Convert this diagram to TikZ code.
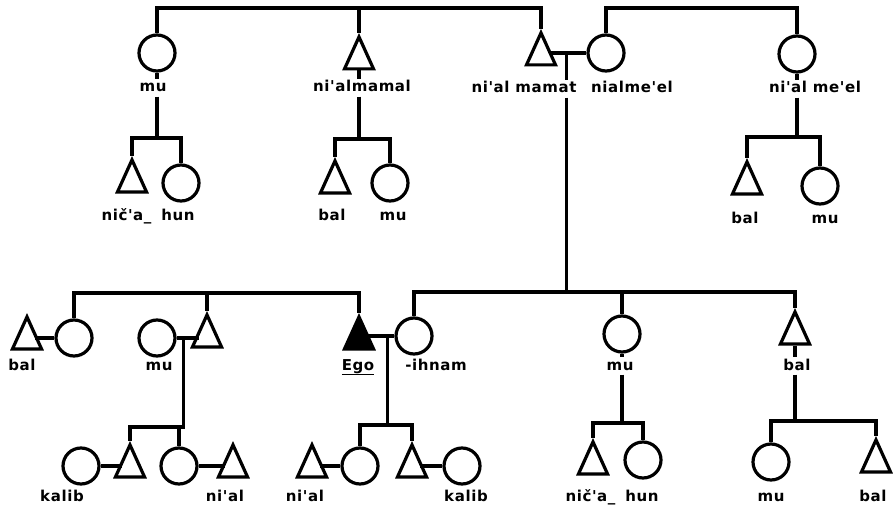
\documentclass[tikz,border=0pt]{standalone}
\usepackage{fontspec}
\setmainfont{DejaVu Sans}
\newfontfamily\lblfont[LetterSpace=4]{DejaVu Sans}
\usetikzlibrary{shapes.geometric,calc}
\tikzset{
  fem/.style={circle, draw, line width=3.2pt, minimum size=36pt, inner sep=0pt},
  mal/.style={isosceles triangle, isosceles triangle stretches, shape border rotate=90,
              draw, line width=3.2pt, minimum width=29pt, minimum height=32pt, inner sep=0pt,
              anchor=lower side},
  egomal/.style={mal, fill=black},
  lbl/.style={font=\lblfont\bfseries\fontsize{15}{17}\selectfont, inner sep=2pt,
              text height=10.5pt, text depth=2.5pt},
  ln/.style={line width=3.1pt},
}
\begin{document}
\begin{tikzpicture}[x=1pt,y=-1pt]
\useasboundingbox (0,0) rectangle (893,513);
% bar levels
\coordinate (yA) at (0,8);
\coordinate (yC) at (0,138);
\coordinate (yD) at (0,139);
\coordinate (yE) at (0,137);
\coordinate (yL) at (0,293);
\coordinate (yR) at (0,292);
\coordinate (yF) at (0,427);
\coordinate (yG) at (0,425);
\coordinate (yH) at (0,423);
\coordinate (yI) at (0,421);

% ---- top generation
\node[fem] (c_mu1) at (157,53) {};
\node[mal] (t_nm) at (359,70.5) {};
\node[mal] (t_nmat) at (541,66.5) {};
\node[fem] (c_nme) at (606,53) {};
\node[fem] (c_nme2) at (797,54) {};
\node[lbl] (l_mu1) at (153,88) {mu};
\node[lbl] (l_nm) at (362,88) {ni'almamal};
\node[lbl] (l_nmat) at (524,89) {ni'al mamat};
\node[lbl] (l_nme) at (632,89) {nialme'el};
\node[lbl] (l_nme2) at (815,89) {ni'al me'el};

% ---- second generation (top)
\node[mal] (t_a1) at (132,193.5) {};
\node[fem] (c_a1) at (181,183) {};
\node[lbl] (l_a) at (148,216) {nič'a\_\hspace{4pt} hun};
\node[mal] (t_b1) at (335,194.5) {};
\node[fem] (c_b1) at (390,183) {};
\node[lbl] (l_b1) at (332,216) {bal};
\node[lbl] (l_b2) at (393,216) {mu};
\node[mal] (t_e1) at (747,195.5) {};
\node[fem] (c_e1) at (820,186) {};
\node[lbl] (l_e1) at (745,219) {bal};
\node[lbl] (l_e2) at (825,219) {mu};

% ---- Ego's generation
\node[mal] (t_bal) at (27,350.5) {};
\node[fem] (c_s1) at (74,338) {};
\node[lbl] (l_bal) at (22,366) {bal};
\node[fem] (c_mu2) at (157,338) {};
\node[mal] (t_br) at (207,348.5) {};
\node[lbl] (l_mu2) at (159,366) {mu};
\node[egomal] (t_ego) at (359,350.5) {};
\node[lbl] (l_ego) at (358,366) {\underline{Ego}};
\node[fem] (c_ih) at (414,336) {};
\node[lbl] (l_ih) at (436,366) {-ihnam};
\node[fem] (c_mu3) at (622,334) {};
\node[lbl] (l_mu3) at (620,366) {mu};
\node[mal] (t_bal3) at (795,345.5) {};
\node[lbl] (l_bal3) at (797,366) {bal};

% ---- children generation
\node[fem] (c_f1) at (81,466) {};
\node[mal] (t_f1) at (130,478.5) {};
\node[fem] (c_f2) at (179,466) {};
\node[mal] (t_f2) at (233,478.5) {};
\node[lbl] (l_f1) at (62,497) {kalib};
\node[lbl] (l_f2) at (225,497) {ni'al};
\node[mal] (t_g1) at (312,478.5) {};
\node[fem] (c_g1) at (360,466) {};
\node[mal] (t_g2) at (412,478.5) {};
\node[fem] (c_g2) at (462,466) {};
\node[lbl] (l_g1) at (305,497) {ni'al};
\node[lbl] (l_g2) at (466,497) {kalib};
\node[mal] (t_h1) at (593,475.5) {};
\node[fem] (c_h2) at (643,460) {};
\node[lbl] (l_h) at (612,497) {nič'a\_\hspace{4pt} hun};
\node[fem] (c_i1) at (771,462) {};
\node[mal] (t_i2) at (876,473.5) {};
\node[lbl] (l_i1) at (771,497) {mu};
\node[lbl] (l_i2) at (873,497) {bal};

% ---- connectors: top
\draw[ln] (c_mu1.north) -- (c_mu1.north |- yA) -- (t_nmat.apex |- yA) -- (t_nmat.apex);
\draw[ln] (t_nm.apex) -- (t_nm.apex |- yA);
\draw[ln] (c_nme.north) -- (c_nme.north |- yA) -- (c_nme2.north |- yA) -- (c_nme2.north);
\draw[ln] (c_mu1.south) -- (c_mu1.south |- l_mu1.north);
\draw[ln] (c_mu1.south |- l_mu1.south) -- (c_mu1.south |- yC);
\draw[ln] (t_a1.apex) -- (t_a1.apex |- yC) -- (c_a1.north |- yC) -- (c_a1.north);
\draw[ln] (t_nm.lower side) -- (t_nm.lower side |- l_nm.north);
\draw[ln] (t_nm.lower side |- l_nm.south) -- (t_nm.lower side |- yD);
\draw[ln] (t_b1.apex) -- (t_b1.apex |- yD) -- (c_b1.north |- yD) -- (c_b1.north);
\draw[ln] (c_nme.west) -- (c_nme.west -| t_nmat.right side);
\coordinate (m1) at ($(c_nme.west -| t_nmat.right side)!0.45!(c_nme.west)$);
\draw[ln] (m1) -- (m1 |- l_nmat.north);
\draw[ln] (m1 |- l_nmat.south) -- (m1 |- yR);
\draw[ln] (c_nme2.south) -- (c_nme2.south |- l_nme2.north);
\draw[ln] (c_nme2.south |- l_nme2.south) -- (c_nme2.south |- yE);
\draw[ln] (t_e1.apex) -- (t_e1.apex |- yE) -- (c_e1.north |- yE) -- (c_e1.north);

% ---- connectors: Ego's generation
\draw[ln] (c_s1.north) -- (c_s1.north |- yL) -- (t_ego.apex |- yL) -- (t_ego.apex);
\draw[ln] (t_br.apex) -- (t_br.apex |- yL);
\draw[ln] (c_s1.west) -- (c_s1.west -| t_bal.right side);
\draw[ln] (c_mu2.east) -- (c_mu2.east -| t_br.left side);
\coordinate (m2) at ($(c_mu2.east)!0.3!(c_mu2.east -| t_br.left side)$);
\draw[ln] (m2) -- (m2 |- yF) -- (t_f1.apex |- yF) -- (t_f1.apex);
\draw[ln] (c_f2.north) -- (c_f2.north |- yF);
\draw[ln] (c_f1.east) -- (c_f1.east -| t_f1.left side);
\draw[ln] (c_f2.east) -- (c_f2.east -| t_f2.left side);
\draw[ln] (c_ih.west) -- (c_ih.west -| t_ego.right side);
\coordinate (m3) at ($(c_ih.west -| t_ego.right side)!0.75!(c_ih.west)$);
\draw[ln] (m3) -- (m3 |- yG);
\draw[ln] (c_g1.north) -- (c_g1.north |- yG) -- (t_g2.apex |- yG) -- (t_g2.apex);
\draw[ln] (c_g1.west) -- (c_g1.west -| t_g1.right side);
\draw[ln] (c_g2.west) -- (c_g2.west -| t_g2.right side);
\draw[ln] (c_ih.north) -- (c_ih.north |- yR) -- (t_bal3.apex |- yR) -- (t_bal3.apex);
\draw[ln] (c_mu3.north) -- (c_mu3.north |- yR);
\draw[ln] (c_mu3.south) -- (c_mu3.south |- l_mu3.north);
\draw[ln] (c_mu3.south |- l_mu3.south) -- (c_mu3.south |- yH);
\draw[ln] (t_h1.apex) -- (t_h1.apex |- yH) -- (c_h2.north |- yH) -- (c_h2.north);
\draw[ln] (t_bal3.lower side) -- (t_bal3.lower side |- l_bal3.north);
\draw[ln] (t_bal3.lower side |- l_bal3.south) -- (t_bal3.lower side |- yI);
\draw[ln] (c_i1.north) -- (c_i1.north |- yI) -- (t_i2.apex |- yI) -- (t_i2.apex);
\end{tikzpicture}
\end{document}
